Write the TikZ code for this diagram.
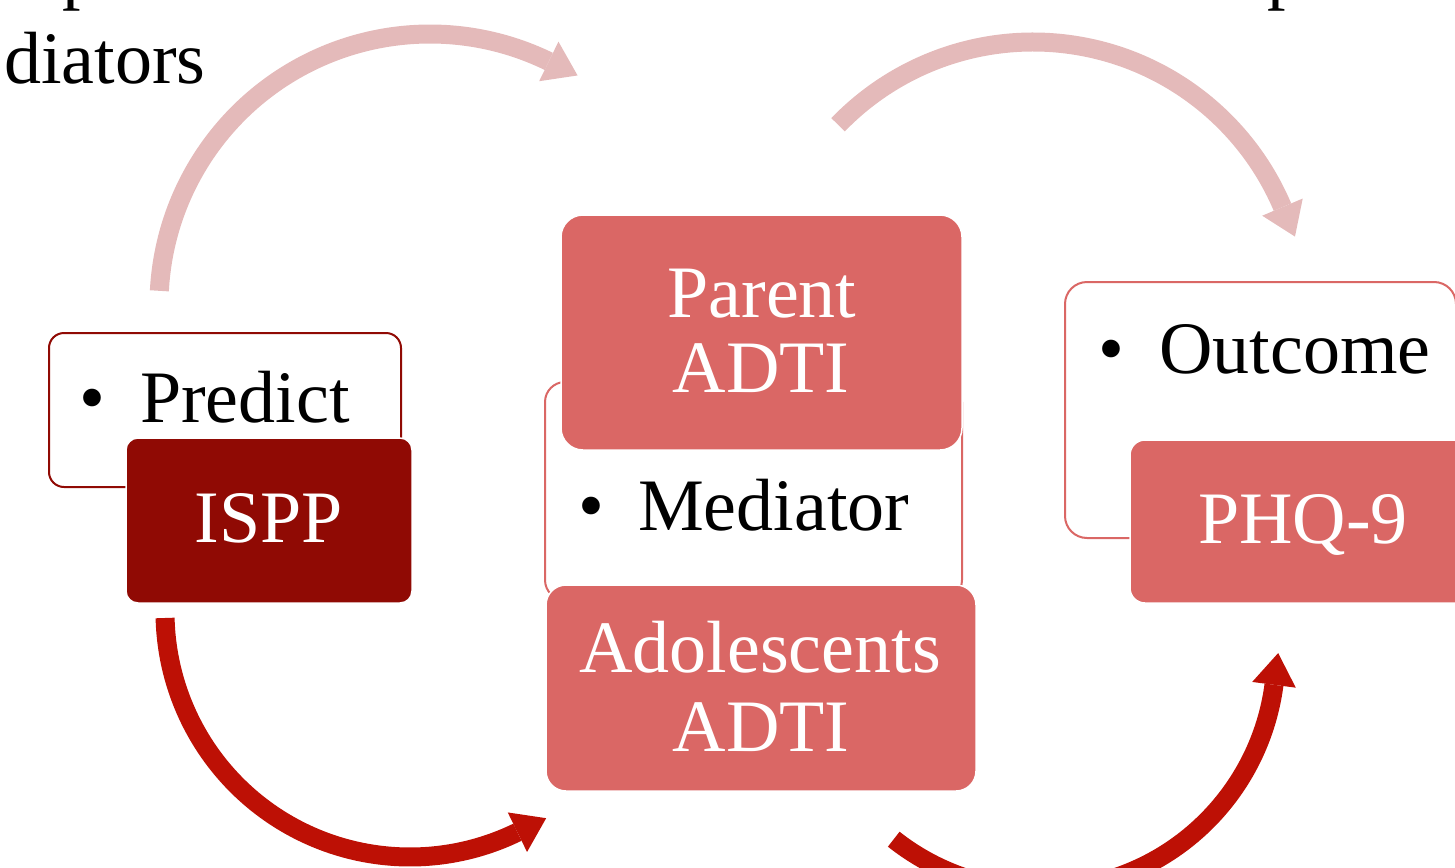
\documentclass[tikz,border=0pt]{standalone}
\usepackage{fontspec}
\setmainfont{Liberation Serif}
\usetikzlibrary{calc}
\definecolor{pinkarr}{RGB}{228,186,186}
\definecolor{darkarr}{RGB}{189,16,5}
\definecolor{salmon}{RGB}{218,103,101}
\definecolor{deepred}{RGB}{144,10,4}
\begin{document}
\begin{tikzpicture}[x=1pt,y=-1pt,
  big/.style={font=\fontsize{74}{76}\selectfont, inner sep=0pt},
  blacktxt/.style={big, text=black, anchor=base west},
  whitetxt/.style={big, text=white, anchor=base},
  outlinebox/.style={rectangle, inner sep=0pt, fill=white, line width=2pt},
  fillbox/.style={rectangle, inner sep=0pt, draw=white, line width=1.5pt},
  pinkshaft/.style={draw=pinkarr, line width=19pt},
  darkshaft/.style={draw=darkarr, line width=19pt}]
\useasboundingbox (0,0) rectangle (1455,867);
\clip (0,0) rectangle (1455,867);

% circular arrows
\coordinate (cA) at (430,305);
\coordinate (cB) at (410,612);
\coordinate (cC) at (1033,313);
\coordinate (cD) at (1040,654);
\coordinate (sA) at ($(cA)+(183:271)$);
\coordinate (sB) at ($(cB)+(178.6:245)$);
\coordinate (sC) at ($(cC)+(224:271)$);
\coordinate (sD) at ($(cD)+(128.3:236)$);

\draw[pinkshaft] (sA) arc[start angle=183, end angle=296, radius=271];
\fill[pinkarr] ($(cA)+(296:293)$) -- ($(cA)+(296:249)$) -- ($(cA)+(296:271)+(26:32)$) -- cycle;

\draw[darkshaft] (sB) arc[start angle=178.6, end angle=64, radius=245];
\fill[darkarr] ($(cB)+(64:267)$) -- ($(cB)+(64:223)$) -- ($(cB)+(64:245)+(-26:32)$) -- cycle;

\draw[pinkshaft] (sC) arc[start angle=224, end angle=337, radius=271];
\fill[pinkarr] ($(cC)+(337:293)$) -- ($(cC)+(337:249)$) -- ($(cC)+(337:271)+(67:32)$) -- cycle;

\draw[darkshaft] (sD) arc[start angle=128.3, end angle=7.5, radius=236];
\fill[darkarr] ($(cD)+(7.5:258)$) -- ($(cD)+(7.5:214)$) -- ($(cD)+(7.5:236)+(-82.5:32)$) -- cycle;

% top-left text fragment
\node[blacktxt] (ptop1) at (62,-4) {p};
\node[blacktxt] (ptop2) at (1267,-4) {p};
\node[blacktxt] (med) at (4,83) {diators};

% left group
\node[outlinebox, draw=deepred, rounded corners=15pt, minimum width=352pt, minimum height=154pt] (predict) at (225,410) {};
\node[blacktxt] (predicttxt) at (79,422) {\makebox[61pt][l]{•}Predict};
\node[fillbox, fill=deepred, rounded corners=12pt, minimum width=286pt, minimum height=165pt] (ispp) at (269,520.5) {};
\node[whitetxt] (issptxt) at (269,542) {ISPP};

% middle group
\node[outlinebox, draw=salmon, rounded corners=20pt, minimum width=417pt, minimum height=218pt] (mediator) at (753.5,491) {};
\node[blacktxt] (mediatortxt) at (578,530) {\makebox[60pt][l]{•}Mediator};
\node[fillbox, fill=salmon, rounded corners=22pt, minimum width=401pt, minimum height=235pt] (parent) at (761.5,332.5) {};
\node[whitetxt] (parenttxt) at (762,317) {Parent};
\node[whitetxt] (parentadti) at (761,392) {ADTI};
\node[fillbox, fill=salmon, rounded corners=20pt, minimum width=430pt, minimum height=206pt] (adol) at (761,688) {};
\node[whitetxt] (adoltxt) at (760,672) {Adolescents};
\node[whitetxt] (adoladti) at (761,751) {ADTI};

% right group
\node[outlinebox, draw=salmon, rounded corners=22pt, minimum width=391pt, minimum height=256pt] (outcome) at (1260.5,410) {};
\node[blacktxt] (outcometxt) at (1098,373) {\makebox[61pt][l]{•}Outcome};
\node[fillbox, fill=salmon, rounded corners=15pt, minimum width=350pt, minimum height=163pt] (phq) at (1305,521.5) {};
\node[whitetxt] (phqtxt) at (1303,543) {PHQ-9};
\end{tikzpicture}
\end{document}
